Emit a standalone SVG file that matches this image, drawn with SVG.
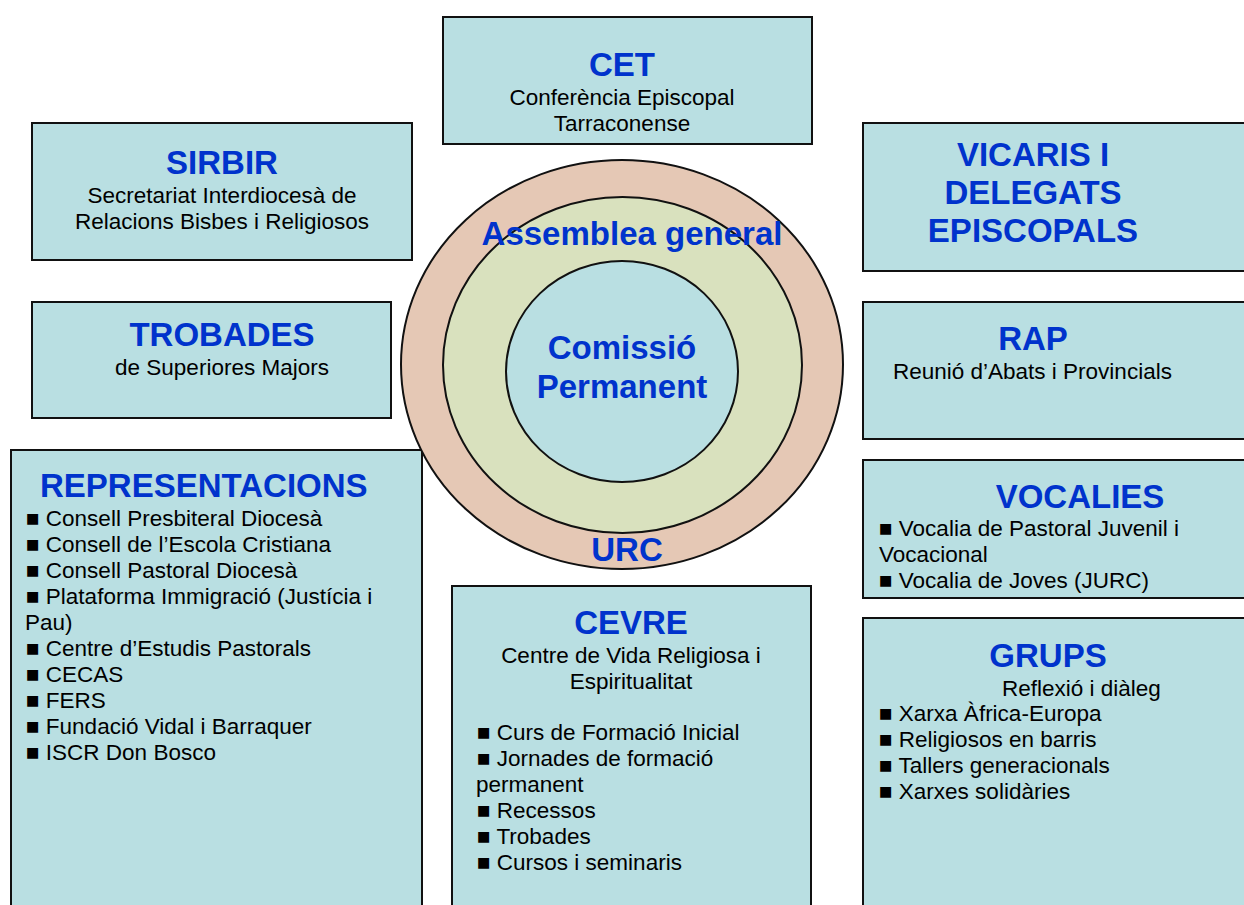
<svg xmlns="http://www.w3.org/2000/svg" width="1244" height="905" viewBox="0 0 1244 905">
<style>
.box{fill:#B9DFE2;stroke:#111;stroke-width:2}
.h{font-family:"Liberation Sans",Arial,sans-serif;font-weight:bold;font-size:33px;fill:#0033CC}
.t{font-family:"Liberation Sans",Arial,sans-serif;font-size:22.5px;fill:#000}
.c{text-anchor:middle}
.ring{stroke:#111;stroke-width:2}
</style>
<rect width="1244" height="905" fill="#fff"/>

<g id="cet">
<rect class="box" x="443" y="17" width="369" height="127"/>
<text class="h c" x="622" y="76">CET</text>
<text class="t c" x="622" y="105">Conferència Episcopal</text>
<text class="t c" x="622" y="131">Tarraconense</text>
</g>

<g id="sirbir">
<rect class="box" x="32" y="123" width="380" height="137"/>
<text class="h c" x="222" y="174">SIRBIR</text>
<text class="t c" x="222" y="203">Secretariat Interdiocesà de</text>
<text class="t c" x="222" y="229">Relacions Bisbes i Religiosos</text>
</g>

<g id="trobades">
<rect class="box" x="32" y="302" width="359" height="116"/>
<text class="h c" x="222" y="346">TROBADES</text>
<text class="t c" x="222" y="375">de Superiores Majors</text>
</g>

<g id="representacions">
<rect class="box" x="11" y="450" width="411" height="470"/>
<text class="h" x="40" y="497">REPRESENTACIONS</text>
<text class="t" x="26" y="526">■ Consell Presbiteral Diocesà</text>
<text class="t" x="26" y="552">■ Consell de l’Escola Cristiana</text>
<text class="t" x="26" y="578">■ Consell Pastoral Diocesà</text>
<text class="t" x="26" y="604">■ Plataforma Immigració (Justícia i</text>
<text class="t" x="25" y="630">Pau)</text>
<text class="t" x="26" y="656">■ Centre d’Estudis Pastorals</text>
<text class="t" x="26" y="682">■ CECAS</text>
<text class="t" x="26" y="708">■ FERS</text>
<text class="t" x="26" y="734">■ Fundació Vidal i Barraquer</text>
<text class="t" x="26" y="760">■ ISCR Don Bosco</text>
</g>

<g id="urc">
<ellipse class="ring" cx="622" cy="364.5" rx="221" ry="204.5" fill="#E5C8B5"/>
<ellipse class="ring" cx="622.5" cy="365" rx="179.5" ry="168" fill="#D9E1BE"/>
<ellipse class="ring" cx="622" cy="371.5" rx="116" ry="110.5" fill="#B9DFE2"/>
<text class="h c" x="632" y="245">Assemblea general</text>
<text class="h c" x="622" y="359">Comissió</text>
<text class="h c" x="622" y="398">Permanent</text>
<text class="h c" x="627" y="561">URC</text>
</g>

<g id="vicaris">
<rect class="box" x="863" y="123" width="400" height="148"/>
<text class="h c" x="1033" y="166">VICARIS I</text>
<text class="h c" x="1033" y="204">DELEGATS</text>
<text class="h c" x="1033" y="242">EPISCOPALS</text>
</g>

<g id="rap">
<rect class="box" x="863" y="302" width="400" height="137"/>
<text class="h c" x="1033" y="350">RAP</text>
<text class="t" x="893" y="379">Reunió d’Abats i Provincials</text>
</g>

<g id="vocalies">
<rect class="box" x="863" y="460" width="400" height="138"/>
<text class="h c" x="1080" y="508">VOCALIES</text>
<text class="t" x="879" y="536">■ Vocalia de Pastoral Juvenil i</text>
<text class="t" x="879" y="562">Vocacional</text>
<text class="t" x="879" y="588">■ Vocalia de Joves (JURC)</text>
</g>

<g id="grups">
<rect class="box" x="863" y="618" width="400" height="300"/>
<text class="h c" x="1048" y="667">GRUPS</text>
<text class="t" x="1002" y="696">Reflexió i diàleg</text>
<text class="t" x="879" y="721">■ Xarxa Àfrica-Europa</text>
<text class="t" x="879" y="747">■ Religiosos en barris</text>
<text class="t" x="879" y="773">■ Tallers generacionals</text>
<text class="t" x="879" y="799">■ Xarxes solidàries</text>
</g>

<g id="cevre">
<rect class="box" x="452" y="586" width="359" height="330"/>
<text class="h c" x="631" y="634">CEVRE</text>
<text class="t c" x="631" y="663">Centre de Vida Religiosa i</text>
<text class="t c" x="631" y="689">Espiritualitat</text>
<text class="t" x="477" y="740">■ Curs de Formació Inicial</text>
<text class="t" x="477" y="766">■ Jornades de formació</text>
<text class="t" x="476" y="792">permanent</text>
<text class="t" x="477" y="818">■ Recessos</text>
<text class="t" x="477" y="844">■ Trobades</text>
<text class="t" x="477" y="870">■ Cursos i seminaris</text>
</g>

<g id="connectors"></g>
</svg>
